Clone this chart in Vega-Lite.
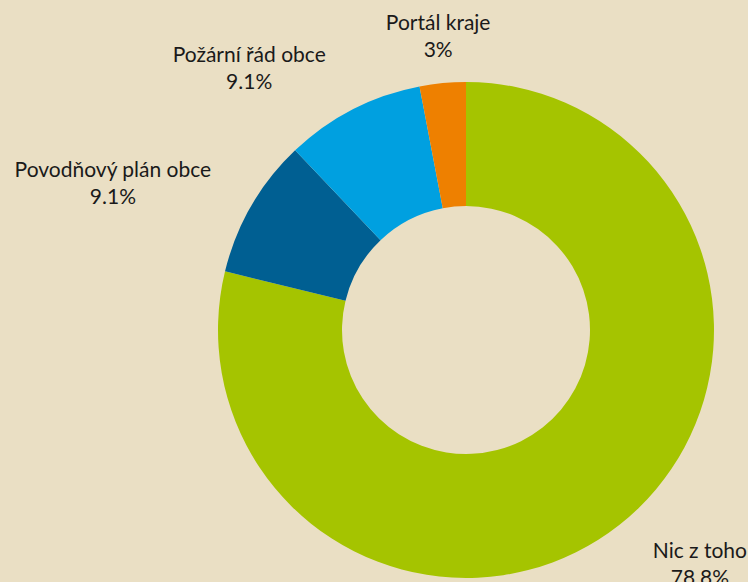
{
  "$schema": "https://vega.github.io/schema/vega-lite/v6.json",
  "width": 496,
  "height": 496,
  "autosize": {"type": "none"},
  "padding": {"left": 218, "top": 82, "right": 34, "bottom": 4},
  "background": "#eadfc4",
  "config": {"view": {"stroke": null}, "font": "Lato"},
  "data": {
    "values": [
      {"name": "Nic z toho", "pct": 78.8, "rank": 1},
      {"name": "Povodňový plán obce", "pct": 9.1, "rank": 2},
      {"name": "Požární řád obce", "pct": 9.1, "rank": 3},
      {"name": "Portál kraje", "pct": 3, "rank": 4}
    ]
  },
  "transform": [
    {"calculate": "datum.name + '\\n' + datum.pct + '%'", "as": "label"}
  ],
  "encoding": {
    "theta": {"field": "pct", "type": "quantitative", "stack": true},
    "order": {"field": "rank", "type": "quantitative"}
  },
  "layer": [
    {
      "mark": {"type": "arc", "outerRadius": 248, "innerRadius": 124},
      "encoding": {
        "color": {
          "field": "name",
          "type": "nominal",
          "scale": {
            "domain": ["Nic z toho", "Povodňový plán obce", "Požární řád obce", "Portál kraje"],
            "range": ["#a5c400", "#005f92", "#00a0e0", "#ee8000"]
          },
          "legend": null
        }
      }
    },
    {
      "mark": {
        "type": "text",
        "radius": 296,
        "fontSize": 21,
        "lineHeight": 27,
        "align": "center",
        "baseline": "middle",
        "dy": -11,
        "color": "#1a1a1a",
        "lineBreak": "\n",
        "dx": {"expr": "((datum.pct_start + datum.pct_end) / 200 > 0.95 || (datum.pct_start + datum.pct_end) / 200 < 0.05) ? 0 : (((datum.pct_start + datum.pct_end) / 200 < 0.5) ? 1 : -1) * length(datum.name) * 5.1"}
      },
      "encoding": {
        "text": {"field": "label", "type": "nominal"}
      }
    }
  ]
}
